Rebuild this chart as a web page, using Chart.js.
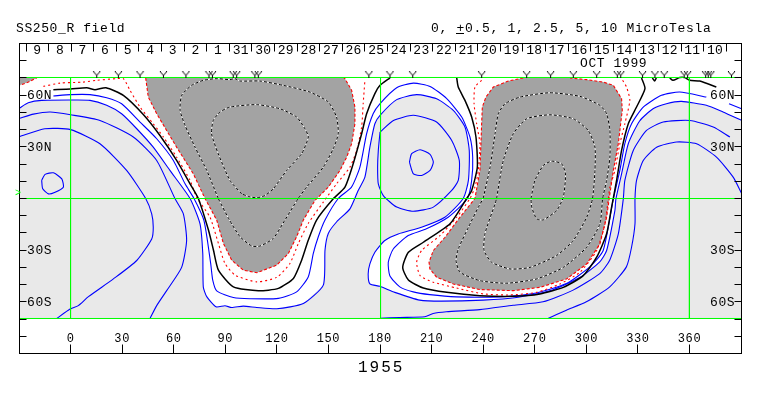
<!DOCTYPE html>
<html>
<head>
<meta charset="utf-8">
<style>
  html, body { margin: 0; background: #fff; }
  #wrap { width: 763px; height: 396px; }
</style>
<script src="https://cdn.jsdelivr.net/npm/chart.js@4"></script>
</head>
<body>
<div id="wrap"><canvas id="chart" width="763" height="396"></canvas></div>
<script>
// axis limits, longitude and latitude
const lonRange = [-29.7, 390.25];
const latRange = [-90, 90];
const lonTicks = [0, 30, 60, 90, 120, 150, 180, 210, 240, 270, 300, 330, 360];
const latTicks = [80, 70, 60, 50, 40, 30, 20, 10, 0, -10, -20, -30, -40, -50, -60, -70, -80];
const latLabels = [[60, "60N"], [30, "30N"], [-30, "30S"], [-60, "60S"]];
const gridLon = [0, 180.3, 359.95];
const gridLat = [70.26, 0, -69.67];

// days of the rotation along the top
const dayTicks = [-25.9, -12.8, 0.4, 13.5, 26.7, 39.8, 52.9, 66.1, 79.2, 92.4, 105.5, 118.6, 131.8, 144.9, 158, 171.2,
  184.3, 197.5, 210.6, 223.7, 236.9, 250, 263.1, 276.3, 289.4, 302.6, 315.7, 328.8, 342, 355.1, 368.2, 381.4];
const dayLabels = ["9", "8", "7", "6", "5", "4", "3", "2", "1", "31", "30", "29", "28", "27", "26", "25",
  "24", "23", "22", "21", "20", "19", "18", "17", "16", "15", "14", "13", "12", "11", "10"];

// little v marks above the map
const markLon = [15.2, 27.8, 40.4, 54, 67.1, 80.5, 82.5, 94.6, 96.6, 107.2, 109.2, 173.5, 185.8, 199, 239.1, 265.3, 279.2,
  292.4, 306, 318, 320, 332.7, 339.9, 345.3, 356.9, 358.9, 369.4, 370.9, 372.4, 384.4];
const markLat = 71.8;

// filled field regions: [lon, lat]
const grayLeft = [[43.7, 70], [45.2, 58.9], [50.1, 49.2], [55.9, 39.5], [61.7, 29.8], [71.4, 14.3], [78.2, 0], [85, -12.5], [88.9, -26.1],
  [93.7, -35.8], [100.5, -41.6], [108.3, -43.1], [119.9, -38.7], [126.7, -31.9], [131.5, -22.2], [135.4, -12.5], [142.1, -1.2],
  [149.9, 6.6], [156.7, 16.3], [160.6, 24], [163.5, 31.8], [165.4, 43.4], [165.4, 53.1], [163.5, 62.8], [159.6, 69.6], [159, 70]];
const grayRight = [[263.3, 70], [254.6, 68.2], [245.9, 64.7], [241.6, 58.9], [239.5, 53.1], [239.1, 43.4], [238.7, 31.8], [238.1, 16.3],
  [235.2, 0], [226.5, -10.85], [217.8, -22.5], [211, -30.2], [208.5, -37], [209, -40.9], [212.9, -45.7], [222.6, -49.6], [238.1, -52.9],
  [257.5, -53.5], [273, -51.6], [288.5, -46.7], [300.2, -38], [307.9, -26.4], [311.8, -10.9], [313.3, -0.2], [315.7, 16.3], [318.6, 31.8],
  [320.9, 51.2], [320.5, 58], [315.7, 65.7], [309.8, 67.6], [300.2, 69], [290.5, 70]];
const grayCorner = [[-29.7, 70], [-29.7, 65.7], [-24.5, 67.6], [-19.7, 70]];

// -1 level, also the edge of the light area
const blueOne = [[-29.7, 52.5], [-24.6, 55.6], [-16.8, 57], [0, 57.2], [11.3, 57], [21, 54.1], [29.7, 49.2], [38.5, 40.5], [48.1, 29.8],
  [57.8, 16.3], [69.5, 0], [75.3, -14.7], [76.9, -31.9], [77.2, -51.3], [79.2, -57], [84.6, -62.9], [89.8, -62.3], [93.7, -63.3], [100.5, -62.5],
  [108.3, -63.3], [119.9, -64], [135.4, -61], [147, -50.3], [148, -29.9], [149.9, -20.3], [154.8, -13.5], [162.5, -6],
  [167.3, 4.65], [171.2, 12.4], [174.1, 29.8], [177, 43.4], [180, 48.3], [189.7, 57.4], [201.3, 60.3], [212.9, 57.9], [222.6, 51.2],
  [229.4, 41.5], [231.9, 27.9], [231.4, 10.5], [228.4, 0], [217.7, -10.9], [204.1, -16.7], [190.6, -20.6], [182.8, -24.4], [177, -31.2],
  [174.1, -38], [173.1, -43.8], [174.1, -49.6], [179.9, -51], [188.6, -54.5], [203.1, -59], [215.7, -59.6], [240, -59], [259.3, -57.5],
  [278.7, -53.6], [296.2, -45.9], [307.8, -36.8], [311.8, -30.2], [316.6, -7], [317.2, -0.2], [320.5, 14.3], [324.4, 31.8], [331, 45], [338.8, 52.1],
  [346.6, 55], [355.3, 56.4], [369.8, 54.1], [379.5, 50.2], [390.25, 45.4]];

// -0.5 level
const blueHalf = [[-10, 59.5], [0, 60.3], [11.3, 60.3], [21, 58.5], [29.7, 55], [40.4, 44.4], [50.1, 34.7], [59.8, 22.1], [66.6, 8.5], [71.8, 0],
  [77.6, -12.8], [81.5, -37.7], [82.7, -47.4], [85, -53.6], [94.7, -57.5], [104.4, -58.2], [120.9, -58], [131.5, -54.2], [138.3, -45.4], [141.2, -31.9],
  [144.1, -22.2], [148, -12.5], [155.7, 0], [163.4, 6.6], [168.3, 18.2], [172.2, 37.6], [176, 49.2], [179.9, 55], [189.7, 64.3], [199.4, 67],
  [209.1, 65.1], [218.8, 58], [227.5, 47.3], [232.3, 35.7], [233.9, 24], [233.3, 10.5], [230.8, 0], [219.6, -10.9], [207, -17.6], [196.4, -21.5],
  [187.7, -29.3], [184.8, -37], [185.7, -44.8], [191.5, -51.3], [199.3, -54.2], [208.9, -55.8], [224.4, -57.1], [249.6, -57.1], [269, -55.2],
  [288.4, -49.4], [302, -39.7], [309.8, -30.2], [315.7, -0.2], [319.5, 16.3], [322.4, 31.8], [326.3, 43.4], [333.1, 53.1], [343.7, 59.9], [354.3, 61.8], [369.8, 58.9]];
const blueHalfEnd = [[383, 55], [390.25, 52.1]];

// -2.5 level
const blueTwoLeft = [[-29.7, 46.6], [-21.6, 49], [-11.9, 50.2], [0, 48.6], [17.1, 45.3], [36.5, 35.7], [50.1, 22.1], [60.7, 0], [65.6, -8.9],
  [67.5, -24.4], [64.6, -40], [55.9, -53.5], [50.1, -62.2], [46.2, -69.67]];
const blueTwoRight = [[180, -69.6], [191.5, -69.1], [206, -68.7], [210.9, -66.8], [218.6, -65.8], [238, -64.5], [257.4, -62], [274.8, -60], [292.3, -53.2],
  [307.8, -43.6], [313.6, -35.8], [318.6, -20.5], [321.5, -0.2], [322.4, 10.5], [327.3, 27.9], [335, 39.5], [344.7, 44.4], [360.2, 45.3], [373.8, 41.5], [383.5, 35.7]];
const blueTwoRing = [[180, 38.6], [187.8, 45.3], [199.4, 48.3], [212.9, 44.4], [221.7, 33.7], [226.1, 22.1], [225.5, 10.5], [221.7, 4.65], [211, -5],
  [199.4, -7.4], [189.7, -5], [181.9, 1.7], [179, 8.5], [178.6, 18.2], [179, 27.9], [180, 38.6]];

// -5 level
const blueFiveLeft = [[-29.7, 35.9], [-15, 40.5], [0, 40], [17.1, 31.8], [32.6, 16.3], [43.7, 0], [47.2, -8.9], [48.1, -16.7], [47.2, -23.5],
  [38.5, -36], [24.9, -46.7], [10.4, -57], [4.5, -62.2], [-0.3, -64.2], [-8, -69.67]];
const blueFiveRight = [[277.7, -69.67], [288.4, -64.9], [300, -60], [313.6, -51.3], [323.3, -39.7], [326.3, -28.3], [328.3, -14.7], [328.3, -0.2], [329.2, 10.5],
  [333.1, 22.1], [340.9, 29.8], [352.5, 32.8], [364.1, 31.8], [375.7, 24], [385.4, 12.4], [390.25, 3.1]];
const blueFiveRing = [[197.1, 21.1], [198.4, 26], [203.3, 28.3], [209.1, 25.6], [211, 21.1], [209.1, 16.3], [204.2, 13.4], [199.4, 14.3], [197.1, 21.1]];
const blueTenRing = [[-16.8, 10.5], [-14.8, 14], [-10, 14.9], [-5.1, 11.4], [-4.2, 6.6], [-9, 3.7], [-12.9, 2.7], [-16.2, 5.6], [-16.8, 10.5]];

// zero level
const blackLeft = [[-10, 63.2], [0, 63.6], [9.4, 64.3], [14.2, 63.2], [20.6, 64.3], [30.7, 59.9], [42.3, 48.8], [52, 36.6], [61.7, 22.1], [69.5, 8.5],
  [74.3, 0], [80.2, -18.3], [83.1, -29.9], [86, -41.6], [94.7, -51.3], [109.2, -53.6], [120.9, -52.2], [129.6, -46.4], [134.4, -35.8], [138.3, -24.1],
  [143.1, -12.5], [152.8, -0.2], [159.6, 6.6], [164.4, 20.2], [169.3, 37.6], [172.2, 49.2], [177, 60.9], [180, 65.7], [185.8, 70]];
const blackRight = [[224.6, 70], [225.5, 64.7], [229.4, 57], [233.3, 47.3], [235.8, 35.7], [236.6, 18.2], [233.3, 4.65], [230.4, 0], [220.7, -14.7],
  [205.2, -25.4], [196.5, -31.2], [193.2, -40], [196.5, -47.3], [205.2, -52], [218.8, -54.5], [238.1, -56.4], [257.5, -56.8], [273, -55.4],
  [286.6, -51.6], [298.2, -44.8], [306, -34.1], [311.8, -20.5], [314.7, -5], [317.6, 10.5], [320.5, 27.9], [324.4, 43.4], [329.2, 53.1],
  [334.1, 63.8], [332.1, 70]];
const blackStub = [[338.4, 70], [339.8, 68.2], [340.7, 70]];
const blackTail = [[348.5, 70], [350.4, 68.6], [354.3, 70.2], [357.2, 70.2], [360.1, 68.6], [366, 68.2], [375.6, 64.7]];

// +0.5 level
const redLeft = [[-15.8, 65.1], [-6.1, 67], [7.4, 67.6], [15.2, 68.6], [26.8, 69.6], [30.7, 69.6], [34.6, 62.8], [40.4, 53.1], [48.1, 43.4], [54, 35.7],
  [61.7, 24], [69.5, 10.5], [73.3, 0.8], [81.1, -10.9], [86, -26.1], [89.8, -37.7], [95.7, -44.5], [108.3, -48.4], [119.9, -45.8], [127.6, -37.7],
  [132.5, -26.1], [138.3, -14.4], [147, -2.1], [154.7, 8.5], [162.5, 18.2], [166.4, 27.9], [169.3, 41.5], [170.2, 55], [171.2, 68.6]];
const redRight = [[239.1, 68.6], [235.2, 64.7], [234.7, 55], [236.2, 43.4], [238.1, 31.8], [237.2, 16.3], [235.2, 6.6], [232.3, 0], [224.6, -10.9],
  [214.9, -21.5], [204.2, -30.2], [201.3, -37], [203.3, -44.8], [211, -48.6], [224.6, -52], [240.1, -55.4], [255.6, -56], [271.1, -54.5],
  [284.7, -49.6], [296.3, -42.8], [306, -30.2], [310.8, -14.7], [312.8, -0.2], [313.7, 6.6], [316.6, 16.3], [319.5, 31.8], [322.4, 43.4],
  [325.3, 57], [323.4, 64.7], [320.5, 69.6]];

// +2.5, +5, +10 levels inside the gray
const peakLeftOuter = [[85.9, 0], [79.2, 16.3], [72.4, 29.8], [66.6, 42.4], [63.7, 51.2], [64.6, 59.9], [70.4, 65.7], [77.2, 68.6], [85, 69.6], [92.7, 69],
  [95.6, 69.6], [98.5, 68.2], [110.2, 68.2], [123.7, 65.7], [139.2, 61.8], [149.9, 56], [154.7, 47.3], [155.7, 37.6], [152.8, 28.9], [147, 18.2],
  [137.3, 6.6], [132.4, 0], [124.7, -12.5], [117.9, -23.2], [110.2, -27.6], [105.4, -27.6], [98.6, -22.2], [92.4, -12.5], [85.9, 0]];
const peakLeftInner = [[99.5, 2.7], [92.7, 10.5], [85.9, 26], [82, 37.6], [83, 45.3], [86.9, 50.2], [92.7, 53.1], [108.2, 54.5], [121.8, 52.1], [131.5, 47.3],
  [136.3, 40.5], [138.3, 35.7], [134.4, 26], [125.7, 16.3], [117.9, 5.6], [113, 1.7], [108.2, 0.4], [103.4, 1.2], [99.5, 2.7]];
const peakRightOuter = [[240, 0], [244, 18.2], [246.9, 37.6], [248.8, 49.2], [252.7, 55], [261.4, 58.9], [278.8, 61.4], [296.3, 59.3], [307.9, 54.1], [311.8, 49.2],
  [313.7, 39.5], [313.7, 24], [311.8, 10.5], [309.5, 0], [307.9, -14.7], [300.2, -28.3], [286.6, -40], [271.1, -46.7], [253.6, -49.2], [238.1, -47.7],
  [226.5, -42.8], [224.2, -36], [225.5, -29.3], [231.4, -16.7], [237.2, -5], [240, 0]];
const peakRightMiddle = [[247.8, 0], [251.7, 22.1], [257.5, 37.6], [265.3, 46.3], [278.8, 48.6], [292.4, 46.3], [301.1, 39.5], [305, 29.8], [305, 16.3], [303.6, 0],
  [300.2, -10.9], [292.4, -24.4], [282.7, -33.1], [267.2, -40], [255.6, -40.9], [244.9, -37], [240.5, -30.2], [241, -20.5], [246.9, -3.1], [247.8, 0]];
const peakRightInner = [[267.8, 0], [270.1, 10.5], [275, 19.2], [279.8, 21.7], [285.6, 20.2], [287.9, 14.3], [286.6, 0.8], [282.7, -7], [275, -12.4], [271.1, -11.8],
  [268.2, -5], [267.8, 0]];

const BLUE = "#0000ff", RED = "#ff0000", GREEN = "#00ff00", BLACK = "#000000";
const LIGHT = "#e9e9e9", DARK = "#a3a3a3";

let datasets = [];
let layer = 0;
const pts = list => list.map(([x, y]) => ({ x, y }));

// drawn last to first, so the first one added sits on top
function add(list, opts) {
  datasets.push(Object.assign({
    data: pts(list), showLine: true, pointRadius: 0, borderWidth: 1.1, borderColor: BLUE,
    tension: 0.2, fill: false, order: layer++
  }, opts));
}

/** @type {HTMLCanvasElement} */
let vMark = document.createElement("canvas");
vMark.width = 9;
vMark.height = 7;
let vCtx = vMark.getContext("2d");
vCtx.strokeStyle = BLACK;
vCtx.beginPath();
vCtx.moveTo(1, 0);
vCtx.lineTo(4.5, 4);
vCtx.lineTo(8, 0);
vCtx.moveTo(4.5, 4);
vCtx.lineTo(4.5, 7);
vCtx.stroke();

add(markLon.map(lon => [lon, markLat]), { showLine: false, pointRadius: 4, pointStyle: vMark });

for (const lat of gridLat)
  add([[lonRange[0], lat], [lonRange[1], lat]], { borderColor: GREEN, borderWidth: 1, tension: 0 });
for (const lon of gridLon)
  add([[lon, gridLat[0]], [lon, gridLat[2]]], { borderColor: GREEN, borderWidth: 1, tension: 0 });

// black dashes over a white line
for (const peak of [peakLeftOuter, peakLeftInner, peakRightOuter, peakRightMiddle, peakRightInner]) {
  add(peak, { borderColor: BLACK, borderWidth: 1, borderDash: [3, 2] });
  add(peak, { borderColor: "#ffffff", borderWidth: 1 });
}

for (const black of [blackLeft, blackRight, blackStub, blackTail])
  add(black, { borderColor: BLACK, borderWidth: 1.5 });

for (const red of [redLeft, redRight])
  add(red, { borderColor: RED, borderDash: [2, 3] });

for (const blue of [blueHalf, blueHalfEnd, blueTwoLeft, blueTwoRight, blueTwoRing, blueFiveLeft, blueFiveRight, blueFiveRing, blueTenRing])
  add(blue, {});

for (const gray of [grayLeft, grayRight, grayCorner])
  add(gray, { borderColor: RED, borderDash: [3, 2], backgroundColor: DARK, fill: "shape", tension: 0 });

add(blueOne, {});
// the light area is everything south of the -1 line
add(blueOne.concat([[lonRange[1], gridLat[2]], [lonRange[0], gridLat[2]]]), {
  borderWidth: 0, backgroundColor: LIGHT, fill: "shape", tension: 0
});

function label(ctx, text, x, y, font, spacing, align, color) {
  ctx.font = font;
  ctx.letterSpacing = spacing;
  ctx.textAlign = align;
  ctx.textBaseline = "alphabetic";
  ctx.fillStyle = color || BLACK;
  ctx.fillText(text, x, y);
}

// ticks point into the frame and the labels sit inside it
const frameAxes = {
  id: "frameAxes",
  afterDraw(chart) {
    const { ctx, chartArea: a, scales: { x, y } } = chart;
    const mono = '"Liberation Mono", monospace';
    ctx.save();
    ctx.strokeStyle = BLACK;
    ctx.lineWidth = 1;
    ctx.strokeRect(a.left, a.top, a.right - a.left, a.bottom - a.top);

    ctx.beginPath();
    for (const lat of latTicks) {
      const py = Math.floor(y.getPixelForValue(lat)) + 0.5;
      ctx.moveTo(a.left, py);
      ctx.lineTo(a.left + 7, py);
      ctx.moveTo(a.right, py);
      ctx.lineTo(a.right - 7, py);
    }
    for (const lon of lonTicks) {
      const px = Math.floor(x.getPixelForValue(lon)) + 0.5;
      ctx.moveTo(px, a.bottom);
      ctx.lineTo(px, a.bottom - 9);
    }
    for (const lon of dayTicks) {
      const px = Math.floor(x.getPixelForValue(lon)) + 0.5;
      ctx.moveTo(px, a.top);
      ctx.lineTo(px, a.top + 8);
    }
    ctx.stroke();

    const small = "13px " + mono;
    for (const lon of lonTicks)
      label(ctx, String(lon), x.getPixelForValue(lon), 342, "12px " + mono, "0.6px", "center");
    dayLabels.forEach((day, i) => {
      const px = x.getPixelForValue((dayTicks[i] + dayTicks[i + 1]) / 2);
      label(ctx, day, px, 54, small, "0.2px", "center");
    });
    for (const [lat, text] of latLabels) {
      const py = y.getPixelForValue(lat) + 4;
      label(ctx, text, 27, py, small, "0.6px", "left");
      label(ctx, text, 710, py, small, "0.6px", "left");
    }

    label(ctx, "SS250_R field", 16, 32, small, "0.6px", "left");
    label(ctx, "0, +0.5, 1, 2.5, 5, 10 MicroTesla", 431, 32, small, "0.7px", "left");
    label(ctx, "OCT 1999", 580, 67, small, "0.6px", "left");
    label(ctx, "1955", 358, 372, "16px " + mono, "2px", "left");
    label(ctx, ">", 15, 196, "10px " + mono, "0px", "left", GREEN);

    // the underline that turns + into plus-minus
    ctx.beginPath();
    ctx.moveTo(456, 33.5);
    ctx.lineTo(464, 33.5);
    ctx.stroke();
    ctx.restore();
  }
};

let mapChart = new Chart(document.getElementById("chart").getContext("2d"), {
  type: "scatter",
  data: { datasets },
  options: {
    responsive: false,
    animation: false,
    layout: { padding: { left: 19.5, right: 21.5, top: 43.5, bottom: 42.5 } },
    scales: {
      x: { type: "linear", display: false, min: lonRange[0], max: lonRange[1] },
      y: { type: "linear", display: false, min: latRange[0], max: latRange[1] }
    },
    plugins: { legend: { display: false }, tooltip: { enabled: false } }
  },
  plugins: [frameAxes]
});
</script>
</body>
</html>
